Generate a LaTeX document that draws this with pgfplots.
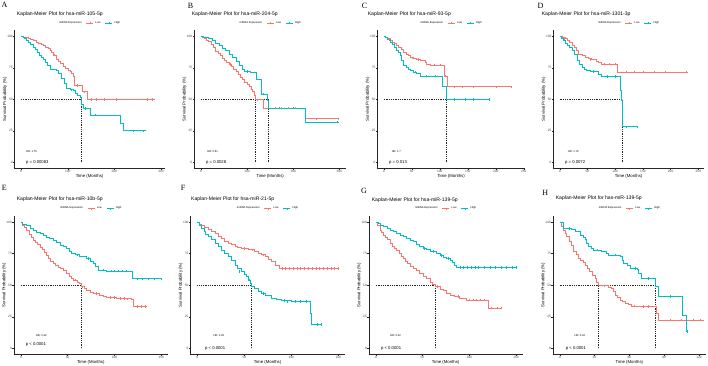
\documentclass[border=0pt]{standalone}
\usepackage{fontspec}
\setmainfont{Liberation Sans}
\newfontfamily\serifletter{Liberation Serif}
\usepackage{pgfplots}
\pgfplotsset{compat=1.18}
\definecolor{kmred}{RGB}{248,118,109}
\definecolor{kmteal}{RGB}{0,191,196}
\newcommand{\titlefont}{\fontsize{5.1}{6}\selectfont}
\newcommand{\letterfont}{\serifletter\fontsize{8}{9}\selectfont}
\tikzset{
  hrtext/.style={anchor=west, font=\fontsize{2.7}{3}\selectfont},
  ptext/.style={anchor=west, font=\fontsize{4.2}{5}\selectfont},
}
\pgfplotsset{
  km/.style={
    scale only axis, anchor=south west,
    axis lines*=left,
    axis line style={line width=0.4pt, black!85},
    tick style={line width=0.35pt, black!85},
    tick align=outside, major tick length=1.3pt,
    ymin=-5, ymax=105, ytick={0,25,50,75,100},
    /pgf/number format/assume math mode=true,
    ticklabel style={font=\fontsize{3.2}{3.4}\selectfont, text=black!72, inner sep=0.4pt},
    xlabel={Time (Months)}, ylabel={Survival Probability (\%)},
    label style={font=\fontsize{4.3}{5}\selectfont, inner sep=0.3pt},
    xlabel style={at={(axis description cs:0.5,0)}, anchor=north, yshift=-5pt},
    ylabel style={at={(axis description cs:0,0.5)}, anchor=south, yshift=7pt},
    legend style={draw=none, fill=none, font=\fontsize{2.7}{3}\selectfont,
      at={(0.5,1)}, anchor=center, yshift=7pt, legend columns=-1,
      inner sep=0pt, /tikz/every even column/.append style={column sep=2.5pt}},
    clip=false,
  },
  low/.style={const plot, color=kmred, line width=0.75pt, no marks,
    legend image code/.code={\draw[kmred, line width=0.5pt] (0pt,0pt) -- (7pt,0pt); \draw[kmred, line width=0.4pt] (3.5pt,-1.2pt) -- (3.5pt,1.2pt);}},
  high/.style={const plot, color=kmteal, line width=0.75pt, no marks,
    legend image code/.code={\draw[kmteal, line width=0.5pt] (0pt,0pt) -- (7pt,0pt); \draw[kmteal, line width=0.4pt] (3.5pt,-1.2pt) -- (3.5pt,1.2pt);}},
  lowc/.style={only marks, mark=|, mark size=1.2pt, color=kmred, mark options={line width=0.4pt}, forget plot},
  highc/.style={only marks, mark=|, mark size=1.2pt, color=kmteal, mark options={line width=0.4pt}, forget plot},
  med/.style={black!85, line width=0.4pt, dash pattern=on 1pt off 0.8pt, forget plot},
}
\begin{document}
\begin{tikzpicture}
\useasboundingbox (0,0) rectangle (708pt,-365pt);
% ---------------- Panel A ----------------
\node[font=\letterfont] at (4.5pt,-4.8pt) {A};
\node[font=\titlefont, anchor=west] at (13.3pt,-14.3pt) {Kaplan-Meier Plot for hsa-miR-105-5p};
\begin{axis}[km, at={(14.5pt,-168.6pt)}, width=150.2pt, height=138.6pt,
  xmin=-14, xmax=308, xtick={0,100,200,300}]
\addlegendimage{empty legend}\addlegendentry{miRNA Expression}
\addplot[med] coordinates {(0,50) (129,50)};
\addplot[med] coordinates {(129,0) (129,50)};
\addplot[low] coordinates {(0,100) (5,99.5) (10,99) (15,98.4) (20,97.5) (26,96.8) (32,95.5) (38,94.5) (44,93.5) (48,92.9) (53,91.5) (58,90.3) (62,89) (66,87) (70,85) (76,82) (80,80.5) (85,78.5) (91,76) (96,74.5) (101,73) (105,72) (108,70.5) (112,68) (114,61) (130,61) (132,56) (142,50) (287,50)};
\addlegendentry{Low}
\addplot[high] coordinates {(0,100) (4,99) (8,98) (12,96.5) (16,95) (20,93.5) (26,91.5) (30,89.5) (35,87.5) (40,85) (44,83.5) (48,82) (52,79.5) (56,77) (62,74) (70,73.5) (76,73) (80,70.5) (87,66.5) (92,63) (98,58.6) (105,57.5) (112,57) (117,55) (121,53) (127,51.5) (129,46) (133,42.7) (148,37.5) (214,31) (219,25) (267,25)};
\addlegendentry{High}
\addplot[lowc] coordinates {(72,85) (120,61) (136,56) (150,50) (162,50) (178,50) (205,50) (270,50) (282,50)};
\addplot[highc] coordinates {(108,57.5) (137,42.7) (160,37.5) (240,25) (262,25)};
\node[hrtext] at (axis cs:3.5,8.4) {HR: 1.75};
\node[ptext] at (axis cs:3.5,0) {p = 0.00083};
\end{axis}
% ---------------- Panel B ----------------
\node[font=\letterfont] at (190.5pt,-5.5pt) {B};
\node[font=\titlefont, anchor=west] at (188.3pt,-14.3pt) {Kaplan-Meier Plot for hsa-miR-204-5p};
\begin{axis}[km, at={(194.1pt,-168.6pt)}, width=152.1pt, height=138.6pt,
  xmin=-15, xmax=315, xtick={0,100,200,300}]
\addlegendimage{empty legend}\addlegendentry{miRNA Expression}
\addplot[med] coordinates {(0,50) (145,50)};
\addplot[med] coordinates {(118,0) (118,50)};
\addplot[med] coordinates {(145,0) (145,50)};
\addplot[low] coordinates {(0,100) (4,99) (8,98) (12,97) (17,96) (22,93.5) (27,91) (32,88) (37,86.5) (42,84.5) (46,82.8) (51,81) (56,79.5) (61,77.5) (66,76) (71,74) (76,72) (81,70) (86,67.5) (90,65.5) (95,63.5) (100,62) (105,60) (109,58) (112,56) (115,53) (118,49.6) (126,49.6) (135,43) (224,43) (226,34.5) (300,34.5)};
\addlegendentry{Low}
\addplot[high] coordinates {(0,100) (6,99.5) (12,99) (17,98) (24,96.5) (32,94.7) (39,92.5) (46,90.7) (53,88.5) (61,85.4) (68,83) (76,80) (83,77) (90,73.5) (95,72) (101,72) (108,71.5) (116,71) (120,65.5) (131,54) (140,54) (145,49) (147,43) (224,43) (226,32) (300,32)};
\addlegendentry{High}
\addplot[lowc] coordinates {(64,77.5) (122,49.6) (160,43) (175,43) (190,43) (205,43) (250,34.5) (298,34.5)};
\addplot[highc] coordinates {(100,72) (135,54) (170,43) (200,43) (296,32)};
\node[hrtext] at (axis cs:6,8.5) {HR: 0.61};
\node[ptext] at (axis cs:3.5,0) {p = 0.0028};
\end{axis}
% ---------------- Panel C ----------------
\node[font=\letterfont] at (364.5pt,-5.5pt) {C};
\node[font=\titlefont, anchor=west] at (364.3pt,-14.3pt) {Kaplan-Meier Plot for hsa-miR-93-5p};
\begin{axis}[km, at={(377.3pt,-168.6pt)}, width=147.5pt, height=138.6pt,
  xmin=-11.5, xmax=252, xtick={0,50,100,150,200,250}]
\addlegendimage{empty legend}\addlegendentry{miRNA Expression}
\addplot[med] coordinates {(0,50) (112,50)};
\addplot[med] coordinates {(112,0) (112,50)};
\addplot[low] coordinates {(0,100) (3,99.3) (6,98.5) (11,96.8) (15,95.5) (19,94.2) (23,92.9) (27,91) (31,89.5) (35,87.6) (40,86) (44,84.8) (47,83.6) (53,82.5) (59,81.5) (66,81) (71,81) (74,79) (77,78) (83,77) (107,77) (108,68.3) (114,60) (230,60)};
\addlegendentry{Low}
\addplot[high] coordinates {(0,100) (3,99) (7,97.5) (11,95.5) (15,93.5) (19,91) (23,89) (26,87) (29,85) (32,81) (35,77) (40,75) (44,74) (47,73) (53,71.5) (59,70.4) (65,68.3) (104,68.3) (105,60) (112,50) (190,50)};
\addlegendentry{High}
\addplot[lowc] coordinates {(9,97.5) (50,83) (62,81.5) (90,77) (100,77) (110,68.3) (125,60) (140,60) (160,60) (200,60) (228,60)};
\addplot[highc] coordinates {(56,71.5) (75,68.3) (92,68.3) (125,50) (145,50) (160,50) (188,50)};
\node[hrtext] at (axis cs:8,8.5) {HR: 1.7};
\node[ptext] at (axis cs:3.5,0) {p = 0.013};
\end{axis}
% ---------------- Panel D ----------------
\node[font=\letterfont] at (540.5pt,-5.5pt) {D};
\node[font=\titlefont, anchor=west] at (538.3pt,-14.3pt) {Kaplan-Meier Plot for hsa-miR-1301-3p};
\begin{axis}[km, at={(553.3pt,-168.6pt)}, width=150.6pt, height=138.6pt,
  xmin=-11.5, xmax=260, xtick={0,50,100,150,200,250}]
\addlegendimage{empty legend}\addlegendentry{miRNA Expression}
\addplot[med] coordinates {(0,50) (112,50)};
\addplot[med] coordinates {(112,0) (112,50)};
\addplot[low] coordinates {(0,100) (5,99) (10,98) (14,96.5) (18,95) (22,93) (26,91) (30,88.5) (34,86) (40,85) (46,83.6) (52,82.5) (58,81.5) (66,80.5) (70,79) (76,78) (103,78) (104,71.5) (231,71.5)};
\addlegendentry{Low}
\addplot[high] coordinates {(0,100) (3,98.5) (6,97) (10,94.7) (14,93) (18,91) (22,89) (26,85.5) (31,81) (35,78) (40,75.7) (45,74) (49,73) (56,72.5) (64,72) (70,70) (76,68) (109,68) (110,56.7) (112,49.3) (113,41) (113.5,28.2) (142,28.2)};
\addlegendentry{High}
\addplot[lowc] coordinates {(8,98) (55,81.5) (80,78) (90,78) (100,78) (120,71.5) (135,71.5) (150,71.5) (170,71.5) (190,71.5) (228,71.5)};
\addplot[highc] coordinates {(60,72) (85,68) (100,68) (120,28.2) (140,28.2)};
\node[hrtext] at (axis cs:8.4,8.5) {HR: 1.79};
\node[ptext] at (axis cs:3.5,0) {p = 0.0072};
\end{axis}
% ---------------- Panel E ----------------
\node[font=\letterfont] at (4.3pt,-188.3pt) {E};
\node[font=\titlefont, anchor=west] at (13.3pt,-199.3pt) {Kaplan-Meier Plot for hsa-miR-10b-5p};
\begin{axis}[km, at={(13.7pt,-354.6pt)}, width=154.2pt, height=138.9pt,
  xmin=-7.5, xmax=157, xtick={0,50,100,150}]
\addlegendimage{empty legend}\addlegendentry{miRNA Expression}
\addplot[med] coordinates {(0,50) (65,50)};
\addplot[med] coordinates {(65,0) (65,50)};
\addplot[low] coordinates {(0,100) (2,97.5) (4,95.5) (6.4,93.4) (9,90) (11,87.5) (13.5,85.5) (16,83.5) (18,82) (20.6,80) (23,78) (25,76) (27.7,73.7) (30,71) (32,69) (34.8,67) (37,65.5) (40,64) (42,63) (45,61.5) (49,59.7) (52,57) (54,55) (56,54) (60,52.5) (63,51.3) (65,48.7) (68,47.5) (70,46) (74,44.5) (77,43.4) (84,42) (88,41) (91.5,40.3) (102,39.5) (118,39) (120,33) (135,33)};
\addlegendentry{Low}
\addplot[high] coordinates {(0,100) (2,98.5) (6.4,97) (10,95) (13.5,93.4) (17,92) (20.6,90.8) (24,89.5) (27.7,88) (31,87) (34.8,85.5) (38,83.5) (41.8,81.6) (45,80.5) (49,79) (52,77) (54,75) (58,74) (63,72.4) (70,71) (74,69) (77,67) (80,64.5) (82.6,62) (91.5,61) (118,61) (119,55) (150.7,55)};
\addlegendentry{High}
\addplot[lowc] coordinates {(58,54) (66,48.7) (80,43.4) (95,40.3) (100,40.3) (106,39.5) (110,39.5) (114,39) (124,33) (128,33) (133,33)};
\addplot[highc] coordinates {(60,74) (72,71) (88,62) (96,61) (100,61) (104,61) (108,61) (112,61) (124,55) (130,55) (136,55) (142,55) (150,55)};
\node[hrtext] at (axis cs:12.4,10) {HR: 0.49};
\node[ptext] at (axis cs:1.8,3.2) {p < 0.0001};
\end{axis}
% ---------------- Panel F ----------------
\node[font=\letterfont] at (183pt,-188.3pt) {F};
\node[font=\titlefont, anchor=west] at (187.7pt,-199.3pt) {Kaplan-Meier Plot for hsa-miR-21-5p};
\begin{axis}[km, at={(190.25pt,-354.6pt)}, width=154.6pt, height=138.9pt,
  xmin=-7.5, xmax=157, xtick={0,50,100,150}]
\addlegendimage{empty legend}\addlegendentry{miRNA Expression}
\addplot[med] coordinates {(0,50) (57.8,50)};
\addplot[med] coordinates {(57.8,0) (57.8,50)};
\addplot[low] coordinates {(0,100) (2,98.5) (4.6,97.6) (8,95.5) (11.7,94) (15,92.5) (18.8,91) (22,89) (26,87) (29,85) (33,83) (36,82) (40,80.5) (43,80) (47,79) (54,78) (61,76.5) (65,75.5) (68.4,74) (72,72.5) (75.5,70.4) (79,68.5) (82.6,66) (87,63.3) (150.7,63.3)};
\addlegendentry{Low}
\addplot[high] coordinates {(0,100) (2,97.5) (4.6,95) (7,92.5) (9,90.5) (11.7,88.4) (15,86) (18.8,83) (22,80.5) (26,77.8) (29,75.5) (33,72.6) (36,70) (40,66) (43,63.5) (47,60.7) (50,58.5) (52.5,56.7) (54,54) (56,51.5) (57.8,49) (61,47.5) (65,45) (68,43.5) (72,42) (79,39.6) (84,38.5) (89.7,37.7) (100,37.2) (118,37) (120,27.7) (121.6,19) (133,19)};
\addlegendentry{High}
\addplot[lowc] coordinates {(50,79) (58,78) (70,74) (90,63.3) (94,63.3) (98,63.3) (102,63.3) (106,63.3) (110,63.3) (114,63.3) (118,63.3) (122,63.3) (126,63.3) (130,63.3) (134,63.3) (138,63.3) (142,63.3) (146,63.3) (150,63.3)};
\addplot[highc] coordinates {(45,60.7) (55,54) (70,43.5) (92,37.7) (96,37.2) (104,37.2) (110,37) (116,37) (128,19) (132,19)};
\node[hrtext] at (axis cs:13.5,10) {HR: 2.26};
\node[ptext] at (axis cs:4.6,0) {p < 0.0001};
\end{axis}
% ---------------- Panel G ----------------
\node[font=\letterfont] at (364pt,-190.5pt) {G};
\node[font=\titlefont, anchor=west] at (368.3pt,-200pt) {Kaplan-Meier Plot for hsa-miR-139-5p};
\begin{axis}[km, at={(368.7pt,-354.6pt)}, width=153.8pt, height=138.9pt,
  xmin=-7.5, xmax=157, xtick={0,50,100,150}]
\addlegendimage{empty legend}\addlegendentry{miRNA Expression}
\addplot[med] coordinates {(0,50) (63.5,50)};
\addplot[med] coordinates {(63.5,0) (63.5,50)};
\addplot[low] coordinates {(0,100) (2,97.5) (4.6,93.7) (6,92) (8.2,89.7) (10,88) (12,86) (15.3,83) (18,81) (20,79) (22.4,77.8) (25,75.5) (27,73) (29.6,71) (32,69) (34,67) (36.7,65) (40,63.5) (43.8,61.5) (47,59.5) (51,56.7) (54,55) (58,52) (61,51) (63.5,49) (69,47) (72.3,45.6) (76,43.5) (79.4,42.2) (84,41) (90,39.6) (97,38.3) (118,38.3) (120,31.7) (135,31.7)};
\addlegendentry{Low}
\addplot[high] coordinates {(0,100) (3,99) (5,97.5) (8.2,96.3) (12,95) (15.3,93.7) (19,92.3) (22.4,91) (26,89.5) (29.6,88.4) (33,87) (36.7,85.8) (40,84.5) (43.8,82.6) (47,80.5) (51,79) (54,78) (58,76.5) (65,75) (69,73.5) (72.3,72) (76,71) (79.4,70) (82,68) (84,66) (86.5,64) (150.7,64)};
\addlegendentry{High}
\addplot[lowc] coordinates {(60,51) (66,49) (88,41) (100,38.3) (104,38.3) (108,38.3) (112,38.3) (116,38.3) (124,31.7) (130,31.7) (134,31.7)};
\addplot[highc] coordinates {(52,79) (62,76.5) (70,73.5) (78,71) (90,64) (94,64) (98,64) (102,64) (106,64) (110,64) (116,64) (122,64) (128,64) (134,64) (140,64) (146,64) (150,64)};
\node[hrtext] at (axis cs:11.7,10) {HR: 0.42};
\node[ptext] at (axis cs:2,0) {p < 0.0001};
\end{axis}
% ---------------- Panel H ----------------
\node[font=\letterfont] at (545.3pt,-192.5pt) {H};
\node[font=\titlefont, anchor=west] at (552.3pt,-198pt) {Kaplan-Meier Plot for has-miR-139-5p};
\begin{axis}[km, at={(552.7pt,-354.6pt)}, width=153.3pt, height=138.9pt,
  xmin=-6, xmax=126, xtick={0,30,60,90,120}]
\addlegendimage{empty legend}\addlegendentry{miRNA Expression}
\addplot[med] coordinates {(0,50) (82,50)};
\addplot[med] coordinates {(33.5,0) (33.5,50)};
\addplot[med] coordinates {(82,0) (82,50)};
\addplot[low] coordinates {(0,100) (1.7,96.3) (3.2,93.7) (4.5,91) (6,88.4) (8,85) (10.3,81.8) (11.8,76.5) (14,74) (16,71) (18,69.5) (20,68) (21.8,66) (24,63) (26,60.7) (28,58) (30.4,55.4) (32,52) (33.5,49.5) (42,48.5) (44.8,47.5) (46,45) (47.7,42.2) (50,40) (52,38.3) (54,37) (56.3,35.6) (59,34.5) (62,33.5) (70,33) (80.7,33) (83.5,27.7) (85,22.4) (124,22.4)};
\addlegendentry{Low}
\addplot[high] coordinates {(0,100) (3.2,95) (10,94) (13.2,92.3) (17.5,89.7) (20,88) (21.8,86) (23,83) (24.7,80.5) (27,79) (29,77.8) (36,76.5) (40,75) (42,73.9) (52,72.6) (54,70) (55,67.3) (58,65.5) (60.6,63.3) (67,62.5) (68,59) (70.6,55.4) (81.5,55.4) (82,48.8) (85,40.9) (105,40.9) (105.5,26.4) (108.8,13.2) (110.8,13.2)};
\addlegendentry{High}
\addplot[lowc] coordinates {(38,49.3) (64,33.5) (72,33) (76,33) (95,22.4) (105,22.4) (115,22.4) (121,22.4)};
\addplot[highc] coordinates {(8,95) (32,77.8) (48,73.9) (65,63.3) (76,55.4) (95,40.9) (110,13.2)};
\node[hrtext] at (axis cs:9.8,10) {HR: 0.42};
\node[ptext] at (axis cs:2.3,0) {p < 0.0001};
\end{axis}
\end{tikzpicture}
\end{document}
